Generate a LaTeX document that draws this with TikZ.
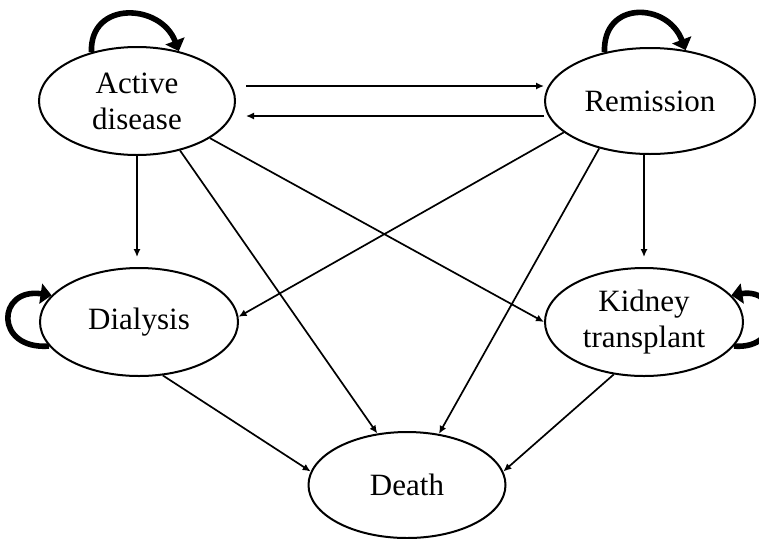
\documentclass[tikz,border=0pt]{standalone}
\usepackage{fontspec}
\setmainfont{Liberation Serif}
\usepackage{tikz}
\usetikzlibrary{arrows.meta,shapes.geometric,positioning}

\begin{document}
\begin{tikzpicture}[
    x = 0.5pt, y = 0.5pt, % one unit per pixel
    > = {Latex[length=4pt,width=3.6pt]}, % arrow head style
    semithick % line style
    ]

    \tikzset{
    stage/.style = {ellipse, draw = black, line width = 1pt, fill = white,
      align = center, inner sep = 0pt, font = \fontsize{15.5}{18}\selectfont},
    move/.style = {->, line width = 0.85pt},
    stay/.style = {-{Triangle[length=5.5pt,width=10pt]}, line width = 2.8pt}
    }
    \useasboundingbox (0,0) rectangle (759,538);

    \node[stage,minimum width=98pt,minimum height=54pt] (act) at (137,437) {Active\\disease};
    \node[stage,minimum width=105pt,minimum height=53pt] (rem) at (650,437) {Remission};
    \node[stage,minimum width=99pt,minimum height=54pt] (dia) at (139,216) {Dialysis};
    \node[stage,minimum width=99pt,minimum height=54pt] (kid) at (644,216) {Kidney\\transplant};
    \node[stage,minimum width=98.5pt,minimum height=53pt] (dea) at (407,53) {Death};

    % transitions between states
    \draw[move] ([xshift=5pt,yshift=7.5pt]act.east) -- ([yshift=7.5pt]rem.west);
    \draw[move] ([yshift=-7.5pt]rem.west) -- ([xshift=5pt,yshift=-7.5pt]act.east);
    \draw[move,shorten >=5pt] (act.south) -- (act.south |- dia.north);
    \draw[move,shorten >=5pt] (kid.north |- rem.south) -- (kid.north);
    \draw[move] (act.-49) -- (dea.120);
    \draw[move] (act.-27) -- (kid.west);
    \draw[move] (rem.200) -- (dia.3);
    \draw[move] (rem.223) -- (dea.58);
    \draw[move] (dia.-66) -- (dea.172);
    \draw[move] (kid.240) -- (dea.8);

    % staying in the same state
    \draw[stay] (act.133) .. controls +(-2,52) and +(-18,48) .. (act.50);
    \draw[stay] (rem.133) .. controls +(-2,52) and +(-18,48) .. (rem.55);
    \draw[stay] (dia.195) .. controls +(-55,-4) and +(-55,8) .. (dia.163);
    \draw[stay] (kid.-15) .. controls +(50,-4) and +(50,8) .. (kid.17);
\end{tikzpicture}
\end{document}
